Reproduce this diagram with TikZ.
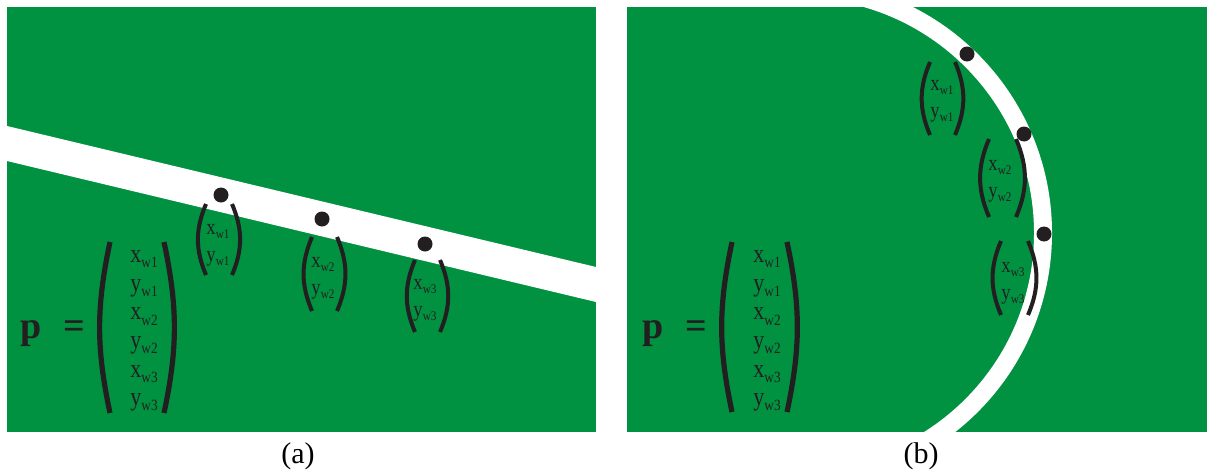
\documentclass[tikz,border=0pt]{standalone}
\usepackage{fontspec}
\setmainfont{Liberation Serif}
\newfontfamily\vecfont[FakeStretch=0.85]{Liberation Serif}
\usepackage{graphicx}
\usepackage{tikz}
\definecolor{fieldGreen}{HTML}{009241}
\definecolor{ink}{HTML}{231F20}
\newcommand{\wsub}[1]{\raisebox{-0.2em}{\scalebox{0.6}{w#1}}}

\begin{document}
\begin{tikzpicture}[
    x=0.5pt, y=-0.5pt,
    field/.style={fill=fieldGreen},
    fieldline/.style={fill=white},
    dot/.style={circle, fill=ink, inner sep=0pt, minimum size=7.5pt},
    pairvec/.style={font=\vecfont\fontsize{11}{13.5}\selectfont, text=ink,
                    align=left, inner sep=0pt, anchor=west},
    fullvec/.style={font=\vecfont\fontsize{13}{14.3}\selectfont, text=ink,
                    align=left, inner sep=0pt, anchor=west},
    lhs/.style={font=\fontsize{19}{19}\selectfont\bfseries, text=ink,
                inner sep=0pt, anchor=base west},
    paren/.style={draw=ink, line width=2pt},
    bigparen/.style={draw=ink, line width=2.6pt},
    caption/.style={font=\fontsize{15}{15}\selectfont, text=black},
]
\useasboundingbox (0,0) rectangle (1214,471);

% Panel (a): straight line
\fill[field] (7,7) rectangle (596,432);
\fill[fieldline] (7,126) -- (596,267) -- (596,302) -- (7,161) -- cycle;

% Panel (b): curved line
\begin{scope}
  \clip (627,7) rectangle (1207,432);
  \fill[field] (627,7) rectangle (1207,432);
  \draw[white, line width=9pt] (799,-11) arc[start angle=90, end angle=-90, radius=122pt];
\end{scope}

% Points on the line (a)
\node[dot] (dA1) at (221,195) {};
\node[dot] (dA2) at (322,219) {};
\node[dot] (dA3) at (425,244) {};

% Point vectors (a)
\node[pairvec] (wA1) at (206,245) {x\wsub{1}\\y\wsub{1}};
\draw[paren] (206,204) to[bend right=23] (206,275);
\draw[paren] (232,204) to[bend left=23] (232,275);

\node[pairvec] (wA2) at (311,278) {x\wsub{2}\\y\wsub{2}};
\draw[paren] (312,237) to[bend right=23] (312,311);
\draw[paren] (337,237) to[bend left=23] (337,311);

\node[pairvec] (wA3) at (413,300) {x\wsub{3}\\y\wsub{3}};
\draw[paren] (415,260) to[bend right=23] (415,332);
\draw[paren] (440,260) to[bend left=23] (440,332);

% Parameter vector (a)
\node[lhs] (pA) at (20,338) {p};
\node[lhs] (eqA) at (63,338) {=};
\node[fullvec] (vecA) at (130,331)
    {x\wsub{1}\\y\wsub{1}\\x\wsub{2}\\y\wsub{2}\\x\wsub{3}\\y\wsub{3}};
\draw[bigparen] (110,242) to[bend right=12] (110,413);
\draw[bigparen] (164,242) to[bend left=12] (164,413);

% Points on the line (b)
\node[dot] (dB1) at (967,54) {};
\node[dot] (dB2) at (1024,134) {};
\node[dot] (dB3) at (1044,234) {};

% Point vectors (b)
\node[pairvec] (wB1) at (930,101) {x\wsub{1}\\y\wsub{1}};
\draw[paren] (930,62) to[bend right=23] (930,135);
\draw[paren] (955,62) to[bend left=23] (955,135);

\node[pairvec] (wB2) at (988,181) {x\wsub{2}\\y\wsub{2}};
\draw[paren] (989,139) to[bend right=23] (989,217);
\draw[paren] (1016,139) to[bend left=23] (1016,217);

\node[pairvec] (wB3) at (1001,283) {x\wsub{3}\\y\wsub{3}};
\draw[paren] (1001,241) to[bend right=23] (1001,315);
\draw[paren] (1028,241) to[bend left=23] (1028,315);

% Parameter vector (b)
\node[lhs] (pB) at (642,338) {p};
\node[lhs] (eqB) at (685,338) {=};
\node[fullvec] (vecB) at (753,331)
    {x\wsub{1}\\y\wsub{1}\\x\wsub{2}\\y\wsub{2}\\x\wsub{3}\\y\wsub{3}};
\draw[bigparen] (732,242) to[bend right=12] (732,412);
\draw[bigparen] (787,242) to[bend left=12] (787,412);

% Captions
\node[caption] (capA) at (298,456) {(a)};
\node[caption] (capB) at (921,456) {(b)};
\end{tikzpicture}
\end{document}
